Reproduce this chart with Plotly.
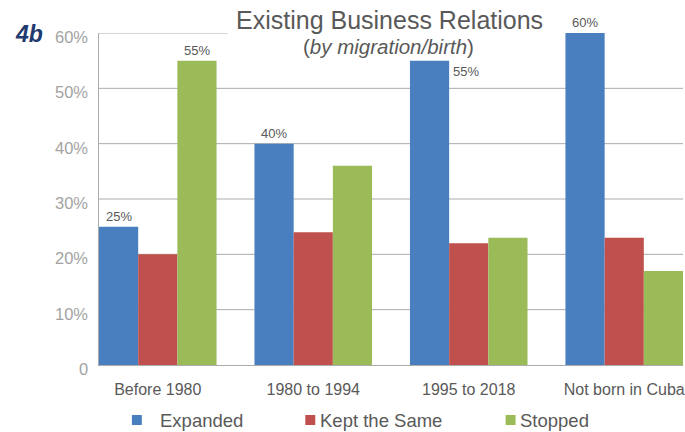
import plotly.graph_objects as go

# Survey results: change in existing business relations, grouped by migration/birth period
categories = ["Before 1980", "1980 to 1994", "1995 to 2018", "Not born in Cuba"]
series_names = ["Expanded", "Kept the Same", "Stopped"]
expanded = [25, 40, 55, 60]
kept_same = [20, 24, 22, 23]
stopped = [55, 36, 23, 17]
y_ticks = [0, 10, 20, 30, 40, 50, 60]
y_tick_text = ["0", "10%", "20%", "30%", "40%", "50%", "60%"]

colors = ["#4A7FBF", "#C0504D", "#9BBB59"]
values = [expanded, kept_same, stopped]

W, H = 685, 432
M_L, M_R, M_T, M_B = 99, 0, 33, 67
PW, PH = W - M_L - M_R, H - M_T - M_B


def px_x(x):
    return (x - M_L) / PW


def px_y(y):
    return (H - M_B - y) / PH


fig = go.Figure()
for name, vals, col in zip(series_names, values, colors):
    fig.add_trace(go.Bar(
        x=list(range(len(categories))), y=vals, name=name,
        marker=dict(color=col, line=dict(width=0)),
        showlegend=False, hoverinfo="x+y+name",
    ))

grid_col = "#ABABAB"
shapes = []
# horizontal gridlines behind the bars; the top one stops where the title begins
for v in y_ticks[1:-1]:
    shapes.append(dict(type="line", xref="paper", yref="y", x0=0, x1=1, y0=v, y1=v,
                       line=dict(color=grid_col, width=1), layer="below"))
shapes.append(dict(type="line", xref="paper", yref="y", x0=0, x1=px_x(228), y0=60, y1=60,
                   line=dict(color=grid_col, width=1), layer="below"))

annotations = []
# y tick labels sit slightly below their gridlines
for v, t in zip(y_ticks, y_tick_text):
    annotations.append(dict(x=0, y=v, xref="paper", yref="y", text=t, showarrow=False,
                            xanchor="right", yanchor="middle", xshift=-9, yshift=-4,
                            font=dict(family="Liberation Sans, Arial", size=16.5, color="#A3A3A3")))

label_font = dict(family="Liberation Sans Narrow, Liberation Sans, Arial", size=13, color="#595959")
# value labels on selected bars: (series index, category index, placement)
value_labels = [(0, 0, "top"), (2, 0, "top"), (0, 1, "top"), (0, 2, "right"), (0, 3, "top")]
bar_w = 0.756 / 3
for s, c, where in value_labels:
    v = values[s][c]
    xc = c + (s - 1) * bar_w
    if where == "top":
        annotations.append(dict(x=xc, y=v, xref="x", yref="y", text=f"{v}%", showarrow=False,
                                yanchor="bottom", yshift=1, font=label_font))
    else:
        annotations.append(dict(x=xc + bar_w / 2, y=v, xref="x", yref="y", text=f"{v}%",
                                showarrow=False, xanchor="left", yanchor="top", xshift=2,
                                yshift=-1, font=label_font))

# titles
annotations.append(dict(x=px_x(390), y=px_y(20), xref="paper", yref="paper",
                        text="Existing Business Relations", showarrow=False,
                        font=dict(family="Liberation Sans, Arial", size=25, color="#595959"),
                        xanchor="center", yanchor="middle"))
annotations.append(dict(x=px_x(389), y=px_y(46), xref="paper", yref="paper",
                        text="(<i>by migration/birth</i>)", showarrow=False,
                        font=dict(family="Liberation Sans, Arial", size=20.5, color="#595959"),
                        xanchor="center", yanchor="middle"))
annotations.append(dict(x=px_x(13), y=px_y(34), xref="paper", yref="paper",
                        text="<b><i>4b</i></b>", showarrow=False,
                        font=dict(family="Liberation Sans, Arial", size=23, color="#1F3A6E"),
                        xanchor="left", yanchor="middle"))

# legend drawn as coloured squares with labels
legend_items = [(132, 158), (306, 319), (507, 519)]
for (sq_x, tx), name, col in zip(legend_items, series_names, colors):
    shapes.append(dict(type="rect", xref="paper", yref="paper",
                       x0=px_x(sq_x), x1=px_x(sq_x + 10), y0=px_y(425), y1=px_y(415),
                       fillcolor=col, line=dict(width=0)))
    annotations.append(dict(x=px_x(tx), y=px_y(420), xref="paper", yref="paper", text=name,
                            showarrow=False, xanchor="left", yanchor="middle",
                            font=dict(family="Liberation Sans, Arial", size=18.5, color="#595959")))

fig.update_layout(
    width=W, height=H,
    margin=dict(l=M_L, r=M_R, t=M_T, b=M_B, pad=0),
    paper_bgcolor="white", plot_bgcolor="white",
    barmode="group", bargap=0.244, bargroupgap=0,
    shapes=shapes, annotations=annotations,
    showlegend=False,
    xaxis=dict(
        range=[-0.378, 3.378], tickvals=list(range(len(categories))), ticktext=categories,
        showgrid=False, zeroline=False, showline=True, linecolor=grid_col, linewidth=1,
        ticks="", ticklabelstandoff=10, ticklabeloverflow="allow",
        tickfont=dict(family="Liberation Sans, Arial", size=16, color="#595959"),
        fixedrange=True,
    ),
    yaxis=dict(
        range=[0, 60], showticklabels=False,
        showgrid=False, zeroline=False, showline=True, linecolor=grid_col, linewidth=1,
        ticks="", fixedrange=True,
    ),
)

fig.write_html("out.html", config={"displayModeBar": False})
